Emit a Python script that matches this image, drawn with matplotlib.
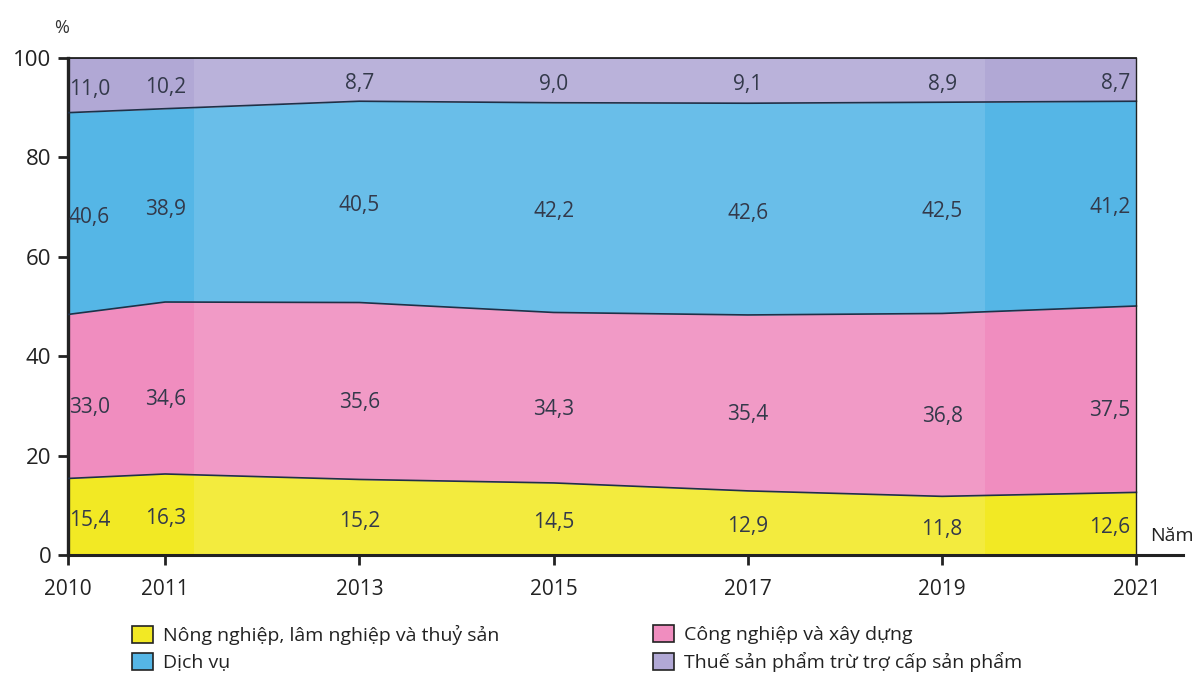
import matplotlib
matplotlib.use('Agg')
import matplotlib.pyplot as plt
from matplotlib.patches import Patch
import numpy as np

plt.rcParams['font.family'] = ['Open Sans', 'DejaVu Sans']

years = [2010, 2011, 2013, 2015, 2017, 2019, 2021]
nong_nghiep = [15.4, 16.3, 15.2, 14.5, 12.9, 11.8, 12.6]
cong_nghiep = [33.0, 34.6, 35.6, 34.3, 35.4, 36.8, 37.5]
dich_vu = [40.6, 38.9, 40.5, 42.2, 42.6, 42.5, 41.2]
thue = [11.0, 10.2, 8.7, 9.0, 9.1, 8.9, 8.7]

names = ['Nông nghiệp, lâm nghiệp và thuỷ sản', 'Công nghiệp và xây dựng',
         'Dịch vụ', 'Thuế sản phẩm trừ trợ cấp sản phẩm']
colors = ['#f2e924', '#f08dbf', '#55b6e6', '#b1a8d5']
edge = '#1f3047'
txt = '#33394a'

series = [nong_nghiep, cong_nghiep, dich_vu, thue]

fig = plt.figure(figsize=(11.95, 6.84), dpi=100)
ax = fig.add_axes([68 / 1195, 1 - 555 / 684, (1183 - 68) / 1195, (555 - 58) / 684])

x = np.array(years, dtype=float)
bottom = np.zeros(len(years))
for vals, c in zip(series, colors):
    top = bottom + np.array(vals)
    ax.fill_between(x, bottom, top, color=c, lw=0, zorder=1)
    ax.plot(x, top, color=edge, lw=1.2, zorder=3)
    # value labels
    for i, (xx, b, v) in enumerate(zip(x, bottom, vals)):
        y = b + v / 2 - 0.8
        if c == colors[1]:
            y -= 1.5
        lbl = f'{v:.1f}'.replace('.', ',')
        if i == 0:
            ax.text(xx + 0.01, y, lbl, ha='left', va='center', fontsize=15, color=txt, zorder=5)
        elif i == len(x) - 1:
            ax.text(xx - 0.06, y, lbl, ha='right', va='center', fontsize=15, color=txt, zorder=5)
        else:
            ax.text(xx, y, lbl, ha='center', va='center', fontsize=15, color=txt, zorder=5)
    bottom = top

# lighter middle band like the printed original
ax.axvspan(2011.3, 2019.44, ymin=0, ymax=1, color='white', alpha=0.12, lw=0, zorder=2)

# frame: top and right edge of the data area
ax.plot([2010, 2021], [100, 100], color='#222222', lw=1.3, zorder=4, clip_on=False)
ax.plot([2021, 2021], [0, 100], color='#222222', lw=1.0, zorder=4, clip_on=False)

ax.set_xlim(2010, 2021.48)
ax.set_ylim(0, 100)
ax.spines['top'].set_visible(False)
ax.spines['right'].set_visible(False)
ax.spines['left'].set_linewidth(2.4)
ax.spines['bottom'].set_linewidth(2.2)
ax.spines['left'].set_color('#222222')
ax.spines['bottom'].set_color('#222222')
ax.set_xticks(years)
ax.set_yticks([0, 20, 40, 60, 80, 100])
ax.tick_params(axis='both', direction='out', length=7, width=2, color='#222222',
               labelsize=15, labelcolor='#222222')
ax.tick_params(axis='x', pad=10)
ax.tick_params(axis='y', pad=5, labelsize=16)

fig.text(62 / 1195, 1 - 28 / 684, '%', fontsize=13, color='#333333', ha='center', va='center')
fig.text(1194 / 1195, 1 - 536 / 684, 'Năm', fontsize=14, color='#222222', ha='right', va='center')

handles = [Patch(facecolor=c, edgecolor='#222222', lw=1.2) for c in colors]
common = dict(loc='upper left', frameon=False, fontsize=14, handlelength=1.1, handleheight=1.0,
              handletextpad=0.5, labelspacing=0.4, borderaxespad=0, borderpad=0.3)
leg1 = fig.legend([handles[0], handles[2]], [names[0], names[2]],
                  bbox_to_anchor=(126 / 1195, 1 - 619 / 684), **common)
leg2 = fig.legend([handles[1], handles[3]], [names[1], names[3]],
                  bbox_to_anchor=(647 / 1195, 1 - 619 / 684), **common)
for lg in (leg1, leg2):
    for t in lg.get_texts():
        t.set_color('#222222')

fig.savefig('out.png', dpi=100)
